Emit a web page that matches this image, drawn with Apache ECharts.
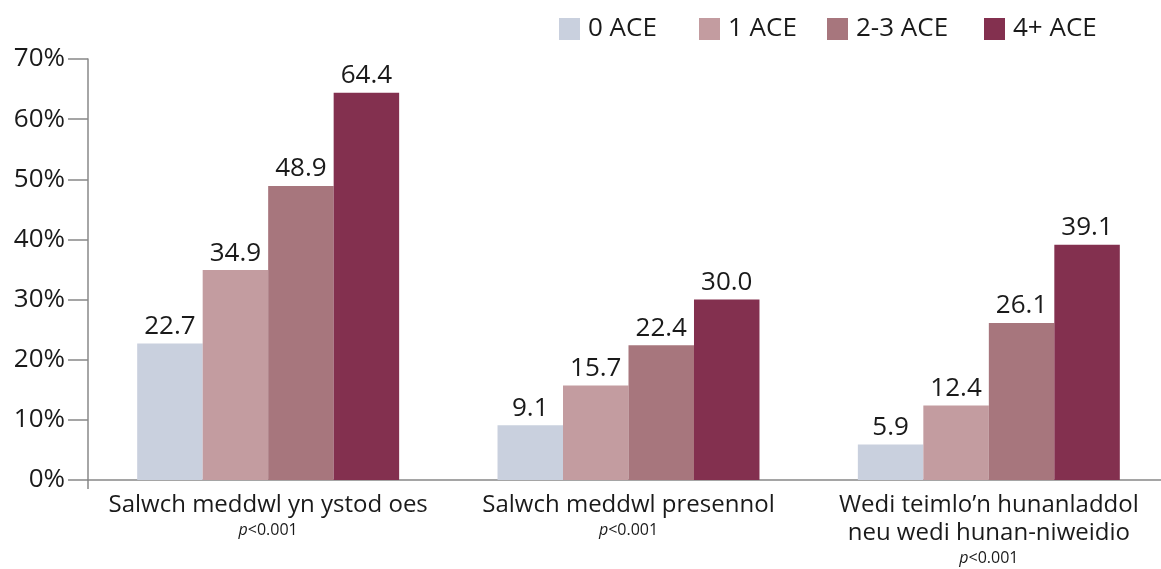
<!DOCTYPE html>
<html>
<head>
<meta charset="utf-8">
<script src="https://cdn.jsdelivr.net/npm/echarts@6/dist/echarts.min.js"></script>
<style>
  html, body { margin: 0; padding: 0; background: #fff; overflow: hidden; }
  #chart { width: 1172px; height: 569px; }
</style>
</head>
<body>
<div id="chart"></div>
<script>
var categories = ['Salwch meddwl yn ystod oes', 'Salwch meddwl presennol', 'Wedi teimlo\u2019n hunanladdol\nneu wedi hunan-niweidio'];
var seriesNames = ['0 ACE', '1 ACE', '2-3 ACE', '4+ ACE'];
var ace0 = [22.7, 9.1, 5.9];
var ace1 = [34.9, 15.7, 12.4];
var ace23 = [48.9, 22.4, 26.1];
var ace4 = [64.4, 30.0, 39.1];
var colors = ['#c9d0de', '#c39ca0', '#a7767d', '#83304f'];
var legendLeft = [559, 699, 827, 984];

var font = '"Open Sans", "Noto Sans", sans-serif';
var chart = echarts.init(document.getElementById('chart'));

function makeSeries(name, data, color) {
	return {
		name: name,
		type: 'bar',
		data: data,
		barGap: '0%',
		barCategoryGap: '27.3%',
		itemStyle: { color: color },
		label: {
			show: true,
			position: 'top',
			distance: 4,
			fontFamily: font,
			fontSize: 26,
			color: '#1a1a1a',
			formatter: function (p) { return p.value.toFixed(1); }
		}
	};
}

function makeLegend(name, left) {
	return {
		left: left,
		top: 16,
		padding: 0,
		itemWidth: 21,
		itemHeight: 22,
		icon: 'rect',
		textStyle: { fontFamily: font, fontSize: 26, color: '#1a1a1a', padding: [0, 0, 0, 3] },
		data: [name]
	};
}

var option = {
	animation: false,
	color: colors,
	legend: seriesNames.map(function (n, i) { return makeLegend(n, legendLeft[i]); }),
	// plot runs a little past the right edge of the window, as in the original
	grid: { left: 88, width: 1081, top: 59, bottom: 86, containLabel: false },
	xAxis: {
		type: 'category',
		data: categories,
		axisLine: { lineStyle: { color: '#888', width: 1.5 } },
		axisTick: {
			show: true,
			length: 9,
			lineStyle: { color: '#888', width: 1.5 },
			interval: function (index) { return index === 0; }
		},
		axisLabel: {
			interval: 0,
			margin: 11,
			fontFamily: font,
			fontSize: 24,
			lineHeight: 28,
			color: '#1a1a1a',
			formatter: function (v) { return v + '\n{p|p}{q|<0.001}'; },
			rich: {
				p: { fontFamily: font, fontSize: 16, fontStyle: 'italic', color: '#1a1a1a', lineHeight: 22 },
				q: { fontFamily: font, fontSize: 16, color: '#1a1a1a', lineHeight: 22 }
			}
		}
	},
	yAxis: {
		type: 'value',
		min: 0,
		max: 70,
		interval: 10,
		axisLine: { show: true, lineStyle: { color: '#888', width: 1.5 } },
		axisTick: { show: true, length: 20, lineStyle: { color: '#888', width: 1.5 } },
		splitLine: { show: false },
		axisLabel: {
			margin: 23,
			fontFamily: font,
			fontSize: 26,
			color: '#1a1a1a',
			padding: [6, 0, 0, 0],
			formatter: '{value}%'
		}
	},
	series: [
		makeSeries(seriesNames[0], ace0, colors[0]),
		makeSeries(seriesNames[1], ace1, colors[1]),
		makeSeries(seriesNames[2], ace23, colors[2]),
		makeSeries(seriesNames[3], ace4, colors[3])
	]
};

chart.setOption(option);
window.onresize = chart.resize;
</script>
</body>
</html>
